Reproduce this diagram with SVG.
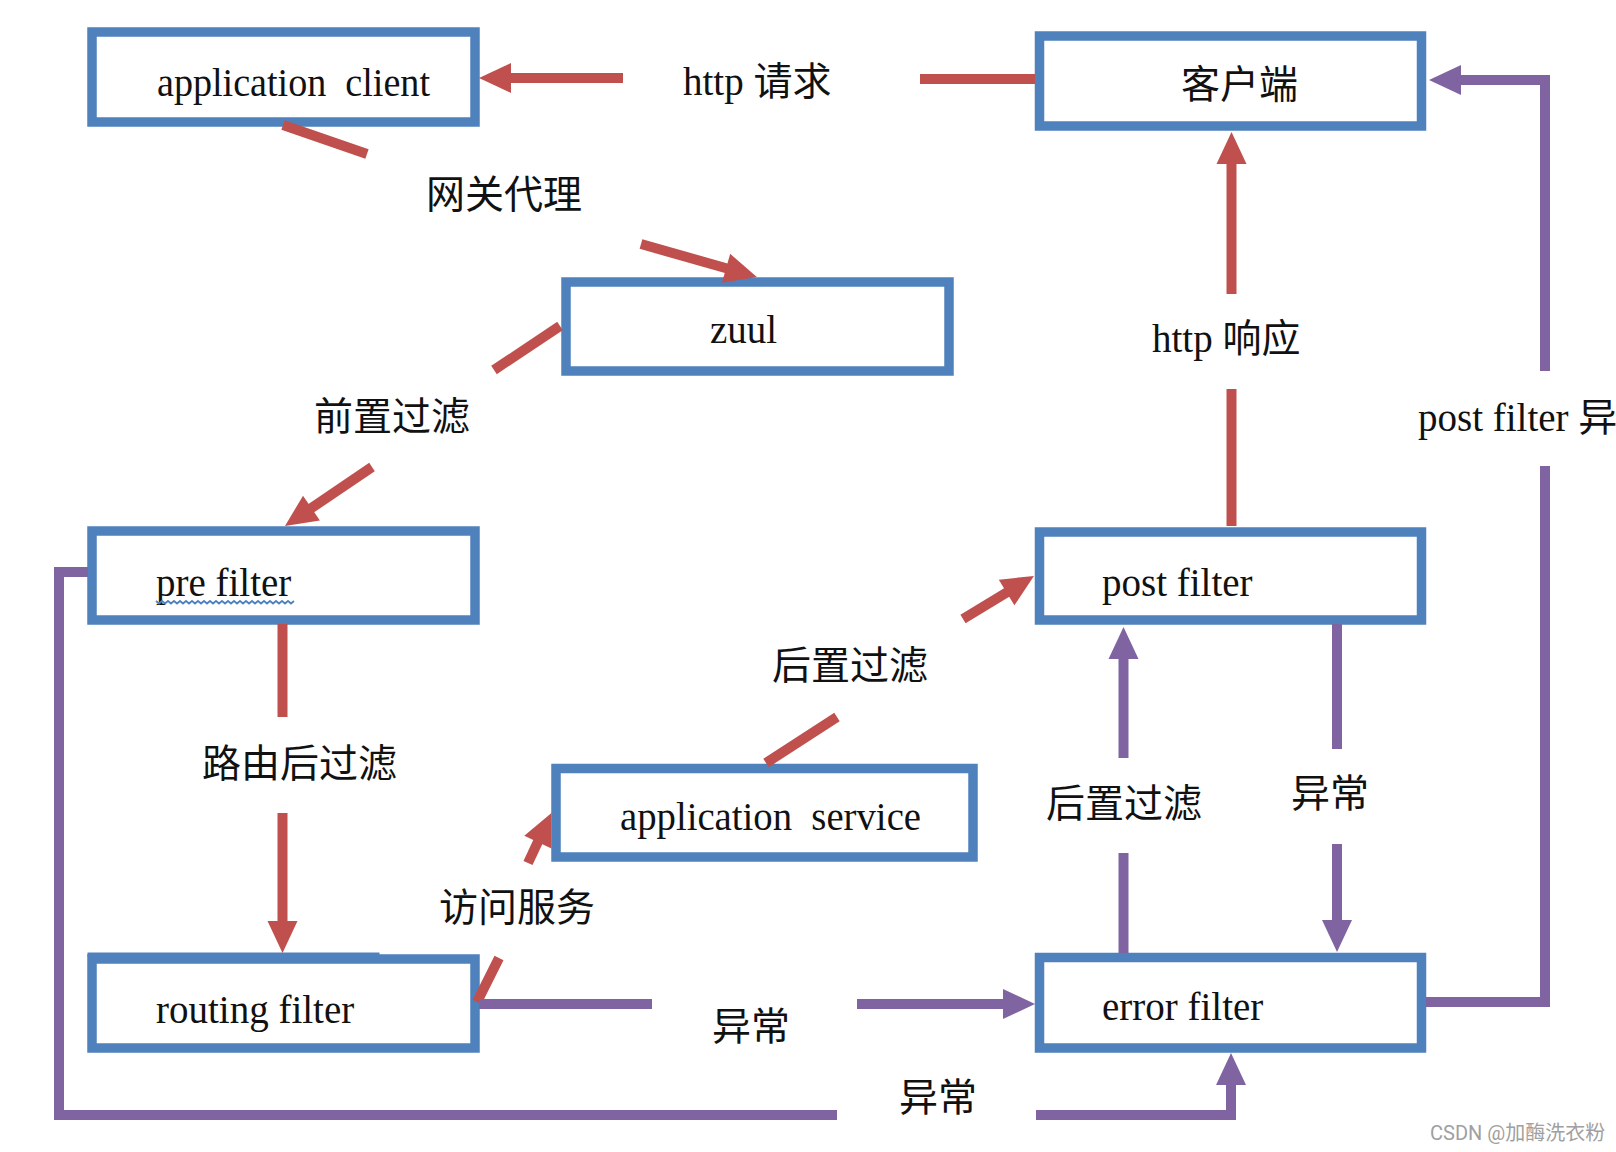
<svg xmlns="http://www.w3.org/2000/svg" width="1616" height="1152" viewBox="0 0 1616 1152">
<style>
.box{fill:#fff;stroke:#4F81BD;stroke-width:9.5}
.lat{font-family:"Liberation Serif","Noto Sans CJK SC",serif;font-size:39px;fill:#111}
.cjk{font-family:"Noto Sans CJK SC",sans-serif;font-size:39px;fill:#111}
.red{fill:none;stroke:#C0504D;stroke-width:10}
.pur{fill:none;stroke:#8064A2;stroke-width:10;stroke-linejoin:miter}
.rh{marker-end:url(#ar)}
.ph{marker-end:url(#ap)}
</style>
<defs>
<marker id="ar" viewBox="-0.2 0 3.2 3" refX="0" refY="1.5" markerWidth="3.2" markerHeight="3" markerUnits="strokeWidth" orient="auto" overflow="visible"><path d="M-0.2,0 L3,1.5 L-0.2,3 z" fill="#C0504D"/></marker>
<marker id="ap" viewBox="-0.2 0 3.2 3" refX="0" refY="1.5" markerWidth="3.2" markerHeight="3" markerUnits="strokeWidth" orient="auto" overflow="visible"><path d="M-0.2,0 L3,1.5 L-0.2,3 z" fill="#8064A2"/></marker>
</defs>
<rect width="1616" height="1152" fill="#fff"/>

<g id="node-application-client">
<rect class="box" x="92" y="32" width="383" height="90"/>
<text class="lat" x="157" y="96" textLength="273" lengthAdjust="spacingAndGlyphs" xml:space="preserve">application  client</text>
</g>
<g id="node-client">
<rect class="box" x="1039.5" y="36" width="382" height="90"/>
<text class="cjk" x="1181" y="98">客户端</text>
</g>
<g id="node-zuul">
<rect class="box" x="566" y="282" width="383" height="89"/>
<text class="lat" x="710" y="343">zuul</text>
</g>
<g id="node-pre-filter">
<rect class="box" x="92" y="531" width="383" height="89"/>
<text class="lat" x="156" y="596">pre filter</text>
<path d="M156,601 l3,2.5 l3,-2.5 l3,2.5 l3,-2.5 l3,2.5 l3,-2.5 l3,2.5 l3,-2.5 l3,2.5 l3,-2.5 l3,2.5 l3,-2.5 l3,2.5 l3,-2.5 l3,2.5 l3,-2.5 l3,2.5 l3,-2.5 l3,2.5 l3,-2.5 l3,2.5 l3,-2.5 l3,2.5 l3,-2.5 l3,2.5 l3,-2.5 l3,2.5 l3,-2.5 l3,2.5 l3,-2.5 l3,2.5 l3,-2.5 l3,2.5 l3,-2.5 l3,2.5 l3,-2.5 l3,2.5 l3,-2.5 l3,2.5 l3,-2.5 l3,2.5 l3,-2.5 l3,2.5 l3,-2.5 l3,2.5 l3,-2.5" fill="none" stroke="#4F81BD" stroke-width="1.8"/>
</g>
<g id="node-post-filter">
<rect class="box" x="1039.5" y="532" width="382" height="88"/>
<text class="lat" x="1102" y="596">post filter</text>
</g>
<g id="node-application-service">
<rect class="box" x="556" y="768.5" width="417" height="88.5"/>
<text class="lat" x="620" y="830" textLength="301" lengthAdjust="spacingAndGlyphs" xml:space="preserve">application  service</text>
</g>
<g id="node-routing-filter">
<rect class="box" x="92" y="959" width="383" height="89"/>
<rect x="87.5" y="952.5" width="292" height="4" fill="#4F81BD"/>
<text class="lat" x="156" y="1023">routing filter</text>
</g>
<g id="node-error-filter">
<rect class="box" x="1039.5" y="957.5" width="382" height="90.5"/>
<text class="lat" x="1102" y="1020">error filter</text>
</g>

<g id="connectors">
<line class="red" x1="920" y1="79" x2="1035" y2="79"/>
<line class="red rh" x1="623" y1="78" x2="509" y2="78"/>
<line class="red" x1="283" y1="125" x2="367" y2="154"/>
<line class="red rh" x1="641" y1="244" x2="728" y2="268.8"/>
<line class="red" x1="560" y1="326" x2="494" y2="370"/>
<line class="red rh" x1="372" y1="467" x2="309.8" y2="509.2"/>
<line class="red" x1="282.5" y1="624" x2="282.5" y2="717"/>
<line class="red rh" x1="282.5" y1="813" x2="282.5" y2="923"/>
<line class="red" x1="477" y1="1002" x2="499" y2="958"/>
<line class="red rh" x1="528" y1="863" x2="538.7" y2="840.2"/>
<line class="red" x1="766" y1="763" x2="837" y2="717"/>
<line class="red rh" x1="963" y1="619" x2="1008.3" y2="591.5"/>
<line class="red" x1="1231.5" y1="526" x2="1231.5" y2="389"/>
<line class="red rh" x1="1231.5" y1="294" x2="1231.5" y2="162"/>
<line class="pur" x1="479" y1="1004" x2="652" y2="1004"/>
<line class="pur ph" x1="857" y1="1004" x2="1005" y2="1004"/>
<line class="pur" x1="1123.5" y1="953" x2="1123.5" y2="853"/>
<line class="pur ph" x1="1123.5" y1="758" x2="1123.5" y2="657"/>
<line class="pur" x1="1337" y1="624" x2="1337" y2="749"/>
<line class="pur ph" x1="1337" y1="844" x2="1337" y2="922"/>
<polyline class="pur" points="1426,1002 1545,1002 1545,466"/>
<polyline class="pur ph" points="1545,371 1545,80 1459,80"/>
<polyline class="pur" points="88,572 59,572 59,1115 837,1115"/>
<polyline class="pur ph" points="1036,1115 1231,1115 1231,1083"/>
</g>

<g id="labels">
<text class="lat" x="683" y="95">http 请求</text>
<text class="cjk" x="426" y="208">网关代理</text>
<text class="cjk" x="314" y="430">前置过滤</text>
<text class="cjk" x="202" y="777">路由后过滤</text>
<text class="cjk" x="439" y="921">访问服务</text>
<text class="cjk" x="712" y="1040">异常</text>
<text class="cjk" x="772" y="679">后置过滤</text>
<text class="lat" x="1152" y="352">http 响应</text>
<text class="lat" x="1418" y="431">post filter 异</text>
<text class="cjk" x="1046" y="817">后置过滤</text>
<text class="cjk" x="1291" y="807">异常</text>
<text class="cjk" x="899" y="1111">异常</text>
<text x="1430" y="1140" font-family="Roboto,'Noto Sans CJK SC',sans-serif" font-size="20" fill="#a0a0a0">CSDN @加酶洗衣粉</text>
</g>
</svg>
